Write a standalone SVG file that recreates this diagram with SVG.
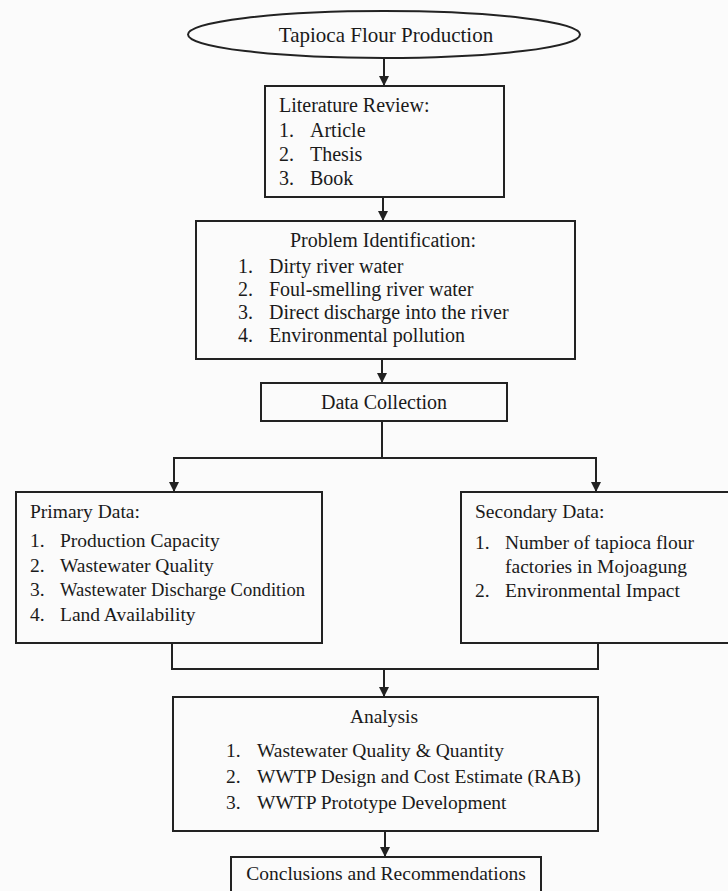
<svg xmlns="http://www.w3.org/2000/svg" width="728" height="891" viewBox="0 0 728 891">
<style>
  .box { fill: none; stroke: #222; stroke-width: 2; }
  .conn { fill: none; stroke: #222; stroke-width: 2; }
  text { font-family: "Liberation Serif", "Times New Roman", serif; fill: #1a1a1a; }
  .t20 { font-size: 20px; }
  .t19 { font-size: 19.5px; }
  .mid { text-anchor: middle; }
</style>
<defs>
  <marker id="arr" markerUnits="userSpaceOnUse" markerWidth="10" markerHeight="10" refX="10" refY="5" orient="auto">
    <path d="M0,0 L10,5 L0,10 z" fill="#222"/>
  </marker>
</defs>
<rect x="0" y="0" width="728" height="891" fill="#fbfbfb"/>

<g id="connectors">
  <line class="conn" x1="384" y1="58" x2="384" y2="86" marker-end="url(#arr)"/>
  <line class="conn" x1="383" y1="197" x2="383" y2="221" marker-end="url(#arr)"/>
  <line class="conn" x1="382" y1="359" x2="382" y2="383" marker-end="url(#arr)"/>
  <polyline class="conn" points="382,421 382,458"/>
  <polyline class="conn" points="382,458 174,458 174,492" marker-end="url(#arr)"/>
  <polyline class="conn" points="382,458 596,458 596,492" marker-end="url(#arr)"/>
  <polyline class="conn" points="172,643 172,669 598,669 598,643"/>
  <line class="conn" x1="384" y1="669" x2="384" y2="697" marker-end="url(#arr)"/>
  <line class="conn" x1="385" y1="831" x2="385" y2="857" marker-end="url(#arr)"/>
</g>

<g id="start">
  <ellipse class="box" cx="384" cy="34.5" rx="196" ry="23.5"/>
  <text class="mid" x="386" y="42" style="font-size:21px">Tapioca Flour Production</text>
</g>

<g id="literature">
  <rect class="box" x="265" y="86" width="239" height="111"/>
  <text class="t20" x="279" y="112">Literature Review:</text>
  <text class="t20" x="279" y="137">1.</text><text class="t20" x="310" y="137">Article</text>
  <text class="t20" x="279" y="161">2.</text><text class="t20" x="310" y="161">Thesis</text>
  <text class="t20" x="279" y="185">3.</text><text class="t20" x="310" y="185">Book</text>
</g>

<g id="problem">
  <rect class="box" x="196" y="221" width="379" height="138"/>
  <text class="t20 mid" x="383" y="247">Problem Identification:</text>
  <text class="t20" x="238" y="273">1.</text><text class="t20" x="269" y="273">Dirty river water</text>
  <text class="t20" x="238" y="296">2.</text><text class="t20" x="269" y="296">Foul-smelling river water</text>
  <text class="t20" x="238" y="319">3.</text><text class="t20" x="269" y="319">Direct discharge into the river</text>
  <text class="t20" x="238" y="342">4.</text><text class="t20" x="269" y="342">Environmental pollution</text>
</g>

<g id="datacollection">
  <rect class="box" x="261" y="383" width="246" height="38"/>
  <text class="t20 mid" x="384" y="409">Data Collection</text>
</g>

<g id="primary">
  <rect class="box" x="16" y="492" width="306" height="151"/>
  <text class="t19" x="30" y="518">Primary Data:</text>
  <text class="t19" x="30" y="547">1.</text><text class="t19" x="60" y="547">Production Capacity</text>
  <text class="t19" x="30" y="572">2.</text><text class="t19" x="60" y="572">Wastewater Quality</text>
  <text class="t19" x="30" y="596">3.</text><text class="t19" x="60" y="596" textLength="245" lengthAdjust="spacingAndGlyphs">Wastewater Discharge Condition</text>
  <text class="t19" x="30" y="621">4.</text><text class="t19" x="60" y="621">Land Availability</text>
</g>

<g id="secondary">
  <rect class="box" x="461" y="492" width="268" height="151"/>
  <text class="t19" x="475" y="518">Secondary Data:</text>
  <text class="t19" x="475" y="549">1.</text><text class="t19" x="505" y="549">Number of tapioca flour</text>
  <text class="t19" x="505" y="573">factories in Mojoagung</text>
  <text class="t19" x="475" y="597">2.</text><text class="t19" x="505" y="597">Environmental Impact</text>
</g>

<g id="analysis">
  <rect class="box" x="173" y="697" width="425" height="134"/>
  <text class="t19 mid" x="384" y="723">Analysis</text>
  <text class="t19" x="226" y="757">1.</text><text class="t19" x="257" y="757">Wastewater Quality &amp; Quantity</text>
  <text class="t19" x="226" y="783">2.</text><text class="t19" x="257" y="783">WWTP Design and Cost Estimate (RAB)</text>
  <text class="t19" x="226" y="809">3.</text><text class="t19" x="257" y="809">WWTP Prototype Development</text>
</g>

<g id="conclusions">
  <rect class="box" x="231" y="857" width="310" height="40"/>
  <text class="t19 mid" x="386" y="880">Conclusions and Recommendations</text>
</g>
</svg>
